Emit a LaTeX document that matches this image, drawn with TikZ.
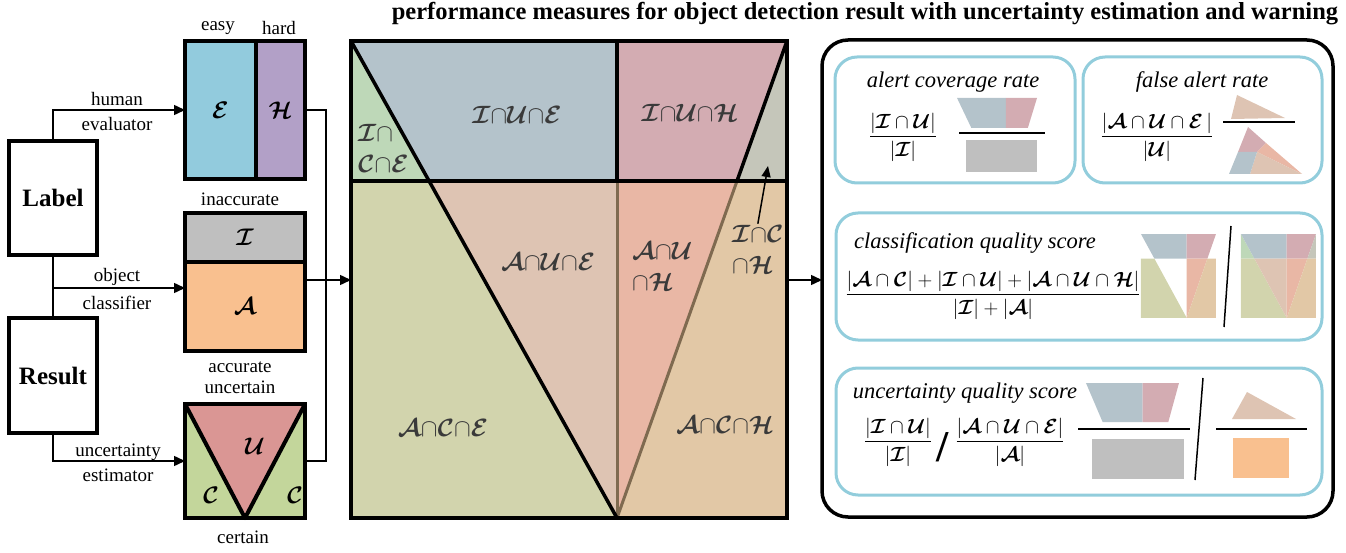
\RequirePackage{fix-cm}
\documentclass[tikz,border=0pt]{standalone}
\usepackage{amsmath}
\usepackage{fontspec}
\setmainfont{Liberation Serif}
\usepackage{tikz}
\usetikzlibrary{arrows.meta, positioning}
\usepackage{xcolor}
\definecolor{easyblue}{RGB}{146,203,221}
\definecolor{hardpurple}{RGB}{178,160,199}
\definecolor{inaccgrey}{RGB}{191,191,191}
\definecolor{accorange}{RGB}{249,192,143}
\definecolor{uncred}{RGB}{218,150,148}
\definecolor{certgreen}{RGB}{195,214,155}
\definecolor{scoreblue}{RGB}{146,205,220}
\definecolor{lblgrey}{RGB}{58,58,58}
\definecolor{edgebrown}{RGB}{127,106,80}
% colours of the eight cells
\definecolor{iceclr}{RGB}{190,216,184}
\definecolor{iueclr}{RGB}{180,195,203}
\definecolor{iuhclr}{RGB}{211,172,178}
\definecolor{ichclr}{RGB}{197,198,186}
\definecolor{aceclr}{RGB}{210,212,173}
\definecolor{aueclr}{RGB}{222,196,179}
\definecolor{auhclr}{RGB}{233,183,165}
\definecolor{achclr}{RGB}{226,200,166}

% set symbols
\newcommand{\calI}{\boldsymbol{\mathcal{I}}}
\newcommand{\calU}{\boldsymbol{\mathcal{U}}}
\newcommand{\calE}{\boldsymbol{\mathcal{E}}}
\newcommand{\calH}{\boldsymbol{\mathcal{H}}}
\newcommand{\calA}{\boldsymbol{\mathcal{A}}}
\newcommand{\calC}{\boldsymbol{\mathcal{C}}}

% cells of the detection panel
\newcommand{\regICE}{(351,41) -- (429,181) -- (351,181) -- cycle}
\newcommand{\regIUE}{(351,41) -- (617,41) -- (617,181) -- (429,181) -- cycle}
\newcommand{\regIUH}{(617,41) -- (787,41) -- (737,181) -- (617,181) -- cycle}
\newcommand{\regICH}{(787,41) -- (787,181) -- (737,181) -- cycle}
\newcommand{\regACE}{(351,181) -- (429,181) -- (617,518) -- (351,518) -- cycle}
\newcommand{\regAUE}{(429,181) -- (617,181) -- (617,518) -- cycle}
\newcommand{\regAUH}{(617,181) -- (737,181) -- (617,518) -- cycle}
\newcommand{\regACH}{(737,181) -- (787,181) -- (787,518) -- (617,518) -- cycle}

\tikzset{
  txt/.style={font=\fontsize{19}{21}\selectfont},
  mainbox/.style={draw, line width=4pt, minimum width=88pt, minimum height=114pt,
    outer sep=0pt, font=\fontsize{25}{28}\selectfont\bfseries},
  setbox/.style={draw, line width=4pt, outer sep=0pt, inner sep=0pt,
    font=\fontsize{24}{26}\selectfont},
  setlbl/.style={font=\fontsize{24}{26}\selectfont},
  cell/.style={font=\fontsize{25}{31}\selectfont, text=lblgrey, inner sep=1pt},
  conn/.style={line width=1.5pt},
  arr/.style={conn, -{Triangle[length=11pt,width=10pt]}},
  score/.style={draw=scoreblue, line width=3pt, rounded corners=22pt},
  ttl/.style={font=\fontsize{22.5}{25}\selectfont\itshape},
  frac/.style={font=\fontsize{20.5}{24}\selectfont, inner sep=0pt},
  bar/.style={line width=1.5pt},
}

\begin{document}
\begin{tikzpicture}[x=1pt, y=-1pt]
    \useasboundingbox (0,0) rectangle (1346,553);

    % --- Label / Result ---
    \node[mainbox] (label) at (53,198) {Label};
    \node[mainbox, minimum height=115pt] (result) at (53,375.5) {Result};

    % --- easy / hard ---
    \node[setbox, fill=easyblue, minimum width=71pt, minimum height=138pt] (ebox) at (220.5,110) {$\calE$};
    \node[setbox, fill=hardpurple, minimum width=49pt, minimum height=138pt] (hbox) at (280.5,110) {$\calH$};
    \node[txt] (easy) at (218,28) {easy};
    \node[txt] (hard) at (279,28) {hard};

    % --- inaccurate / accurate ---
    \node[setbox, fill=inaccgrey, minimum width=120pt, minimum height=49pt] (ibox) at (245,237.5) {$\calI$};
    \node[setbox, fill=accorange, minimum width=120pt, minimum height=89pt] (abox) at (245,306.5) {$\calA$};
    \node[txt] (inacc) at (240,199) {inaccurate};
    \node[txt, align=center] (acc) at (240,378) {accurate\\uncertain};

    % --- uncertain / certain ---
    \node[fill=certgreen, minimum width=120pt, minimum height=114pt, outer sep=0pt] (ubox) at (245,461) {};
    \fill[uncred] (ubox.north west) -- (ubox.north east) -- (ubox.south) -- cycle;
    \draw[line width=4pt, line join=round] (ubox.north west) -- (ubox.south) -- (ubox.north east);
    \draw[line width=4pt] (ubox.north west) rectangle (ubox.south east);
    \node[setlbl] (lblU) at (255,446) {$\calU$};
    \node[setlbl] (lblCl) at (211,495) {$\calC$};
    \node[setlbl] (lblCr) at (295,495) {$\calC$};
    \node[txt] (cert) at (243,537) {certain};

    % --- connectors on the left ---
    \draw[arr] (label.north) |- (ebox.west);
    \node[txt] (human) at (117,99) {human};
    \node[txt] (evaluator) at (117,124) {evaluator};
    \draw[conn] (label.south) -- (result.north);
    \coordinate (clsfork) at (53,288);
    \draw[arr] (clsfork) -- (clsfork -| abox.west);
    \node[txt] (object) at (117,277) {object};
    \node[txt] (classifier) at (117,303) {classifier};
    \draw[arr] (result.south) |- (ubox.west);
    \node[txt] (uncty) at (118,452) {uncertainty};
    \node[txt] (estimator) at (118,475) {estimator};

    \node[minimum width=436pt, minimum height=477pt, inner sep=0pt, outer sep=0pt] (panel) at (569,279.5) {};
    \coordinate (merge) at (326,280);
    \draw[conn] (hbox.east) -| (merge);
    \draw[conn] (ubox.east) -| (merge);
    \draw[arr] (merge -| abox.east) -- (merge -| panel.west);

    % --- detection panel ---
    \node[font=\fontsize{24.5}{28}\selectfont\bfseries] (title) at (865,14)
        {performance measures for object detection result with uncertainty estimation and warning};
    \fill[iceclr] \regICE;
    \fill[iueclr] \regIUE;
    \fill[iuhclr] \regIUH;
    \fill[ichclr] \regICH;
    \fill[aceclr] \regACE;
    \fill[aueclr] \regAUE;
    \fill[auhclr] \regAUH;
    \fill[achclr] \regACH;
    \draw[edgebrown, line width=3pt] (617,181) -- (617,518);
    \draw[edgebrown, line width=3pt] (737,181) -- (617,518);
    \draw[line width=3.5pt] (351,181) -- (787,181);
    \draw[line width=3.5pt] (617,41) -- (617,181);
    \draw[line width=3.5pt] (351,41) -- (617,518);
    \draw[line width=3.5pt] (787,41) -- (737,181);
    \draw[line width=4pt] (panel.north west) rectangle (panel.south east);

    \node[cell, align=left, anchor=west] (tICE) at (357,148) {$\calI{\cap}$\\$\calC{\cap}\calE$};
    \node[cell] (tIUE) at (517,115) {$\calI{\cap}\calU{\cap}\calE$};
    \node[cell] (tIUH) at (690,113) {$\calI{\cap}\calU{\cap}\calH$};
    \node[cell] (tAUE) at (548,262) {$\calA{\cap}\calU{\cap}\calE$};
    \node[cell, align=left, anchor=west] (tAUH) at (631,266) {$\calA{\cap}\calU$\\${\cap}\calH$};
    \node[cell, align=left, anchor=west] (tICH) at (731,249) {$\calI{\cap}\calC$\\${\cap}\calH$};
    \node[cell] (tACE) at (443,428) {$\calA{\cap}\calC{\cap}\calE$};
    \node[cell] (tACH) at (725,425) {$\calA{\cap}\calC{\cap}\calH$};
    \coordinate (ichtip) at (768,166);
    \draw[conn, -{Triangle[length=11pt,width=9pt]}] (tICH.north) -- (ichtip);

    % --- measures ---
    \node[draw, line width=3.5pt, rounded corners=26pt, minimum width=511pt,
          minimum height=477pt, outer sep=0pt] (scores) at (1077.5,278.5) {};
    \draw[arr] (merge -| panel.east) -- (merge -| scores.west);

    \draw[score] (835,57) rectangle (1075,183);
    \draw[score] (1083,57) rectangle (1322,183);
    \draw[score] (836,213) rectangle (1322,340);
    \draw[score] (836,368) rectangle (1322,495);

    % alert coverage rate
    \node[ttl] (tCov) at (953,82) {alert coverage rate};
    \node[frac] (fCov) at (903,137) {$\dfrac{|\calI\cap\calU|}{|\calI|}$};
    \begin{scope}[shift={(892.6,89.2)}, xscale=0.1835, yscale=0.214]
        \fill[iueclr] \regIUE;
        \fill[iuhclr] \regIUH;
    \end{scope}
    \draw[bar] (959,133) -- (1045,133);
    \fill[inaccgrey] (966,140) rectangle (1037,172);

    % false alert rate
    \node[ttl] (tFal) at (1202,82) {false alert rate};
    \node[frac] (fFal) at (1157,137) {$\dfrac{|\calA\cap\calU\cap\calE\,|}{|\calU|}$};
    \fill[aueclr] (1231,119) -- (1237,95) -- (1285,118) -- cycle;
    \draw[bar] (1223,122) -- (1295,122);
    \fill[iuhclr] (1248,127) -- (1266,143) -- (1257,152) -- (1238,152) -- cycle;
    \fill[auhclr] (1266,143) -- (1302,174) -- (1257,152) -- cycle;
    \fill[aueclr] (1257,152) -- (1302,174) -- (1250,174) -- cycle;
    \fill[iueclr] (1238,152) -- (1257,152) -- (1250,174) -- (1229,174) -- cycle;

    % classification quality score
    \node[ttl] (tCls) at (975,243) {classification quality score};
    \node[frac] (fCls) at (993,295)
        {$\dfrac{|\calA\cap\calC| + |\calI\cap\calU| + |\calA\cap\calU\cap\calH|}{|\calI| + |\calA|}$};
    \begin{scope}[shift={(1080.6,226.8)}, xscale=0.172, yscale=0.176]
        \fill[iueclr] \regIUE;
        \fill[iuhclr] \regIUH;
        \fill[aceclr] \regACE;
        \fill[auhclr] \regAUH;
        \fill[achclr] \regACH;
    \end{scope}
    \draw[bar] (1231,226) -- (1224,327);
    \begin{scope}[shift={(1180.6,226.8)}, xscale=0.172, yscale=0.176]
        \fill[iceclr] \regICE;
        \fill[iueclr] \regIUE;
        \fill[iuhclr] \regIUH;
        \fill[ichclr] \regICH;
        \fill[aceclr] \regACE;
        \fill[aueclr] \regAUE;
        \fill[auhclr] \regAUH;
        \fill[achclr] \regACH;
    \end{scope}

    % uncertainty quality score
    \node[ttl] (tUnc) at (965,393) {uncertainty quality score};
    \node[frac] (fUncI) at (898,442) {$\dfrac{|\calI\cap\calU|}{|\calI|}$};
    \node[font=\fontsize{44}{44}\selectfont\bfseries, inner sep=0pt] (slash) at (943,447) {/};
    \node[frac] (fUncA) at (1010,442) {$\dfrac{|\calA\cap\calU\cap\calE|}{|\calA|}$};
    \begin{scope}[shift={(1011.1,371.6)}, xscale=0.2133, yscale=0.2786]
        \fill[iueclr] \regIUE;
        \fill[iuhclr] \regIUH;
    \end{scope}
    \draw[bar] (1078,429) -- (1190,429);
    \fill[inaccgrey] (1092,439) rectangle (1184,479);
    \draw[bar] (1203,378) -- (1195,480);
    \fill[aueclr] (1232,419) -- (1247,392) -- (1296,419) -- cycle;
    \draw[bar] (1216,429) -- (1307,429);
    \fill[accorange] (1233,438) rectangle (1289,478);
\end{tikzpicture}
\end{document}
